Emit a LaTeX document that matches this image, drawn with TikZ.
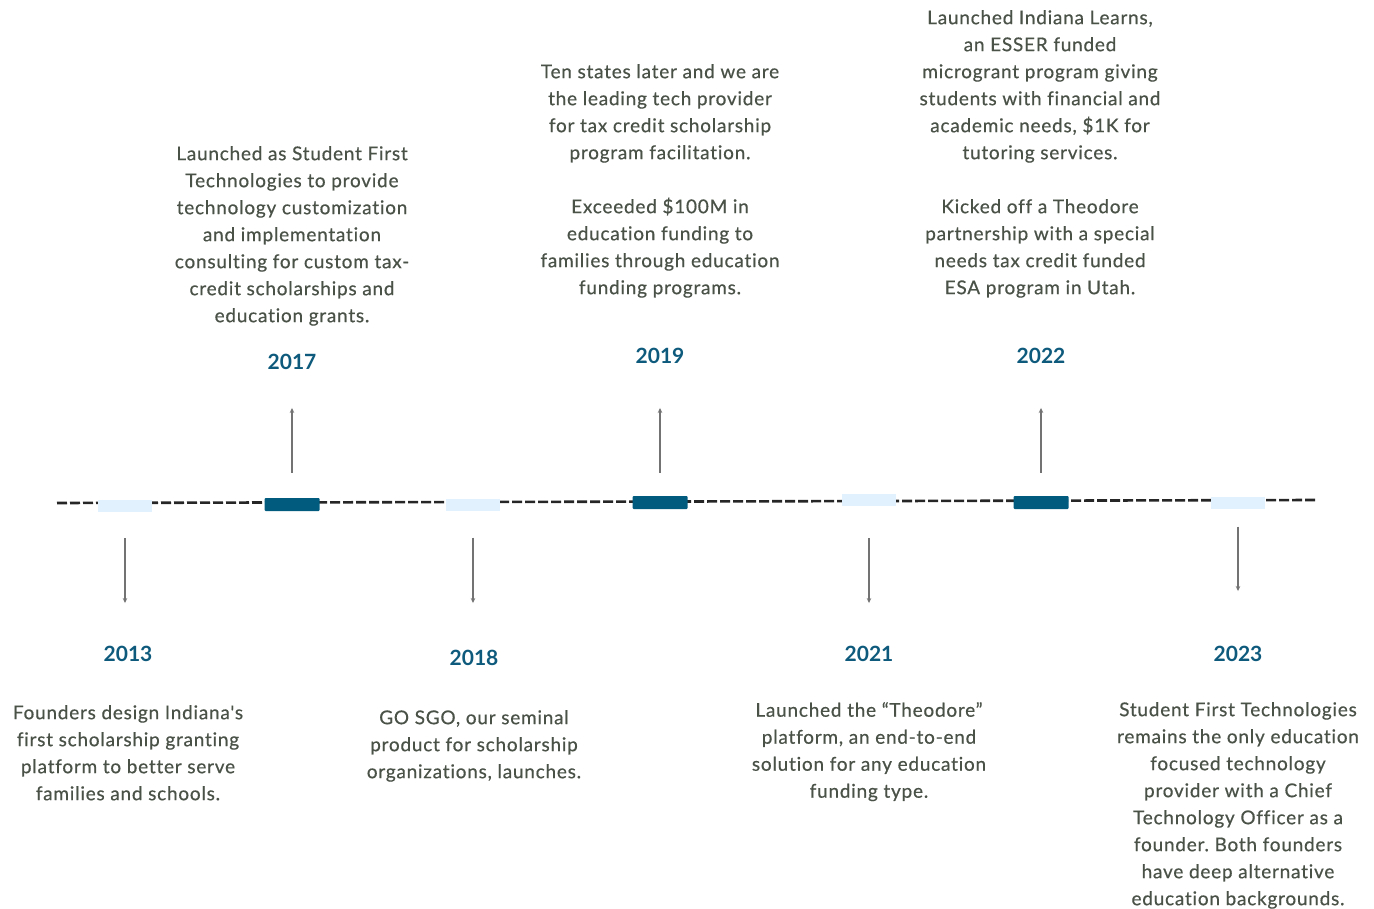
\documentclass[tikz,border=0pt]{standalone}
\usepackage{fontspec}
\setmainfont{Lato}
\newfontfamily\blurbfont[FakeBold=0.5, LetterSpace=4, Ligatures=NoCommon]{Lato}
\usetikzlibrary{arrows.meta, calc}
\definecolor{barlight}{HTML}{E1F2FE}
\definecolor{bardark}{HTML}{005B7F}
\definecolor{yearblue}{HTML}{0E5A7C}
\definecolor{bodygray}{HTML}{4A5248}
\frenchspacing

\begin{document}
\begin{tikzpicture}[x=1pt,y=-1pt]
                % define styles
\tikzset{lightbar/.style={rectangle,
                          fill=barlight,
                          inner sep=0,
                          minimum width=54pt,
                          minimum height=12pt},
         darkbar/.style={rectangle,
                         fill=bardark,
                         rounded corners=1pt,
                         inner sep=0,
                         minimum width=55pt,
                         minimum height=13pt},
         year/.style={font=\fontsize{21}{24}\selectfont\bfseries,
                      text=yearblue,
                      inner sep=0},
         blurb/.style={font=\blurbfont\fontsize{19}{27}\selectfont,
                       text=bodygray,
                       align=center,
                       anchor=north,
                       inner sep=0},
         conn/.style={draw=black!55,
                      line width=1.2pt,
                      -{Stealth[length=5pt,width=4.5pt]}}
}
\useasboundingbox (0,0) rectangle (1374,909);

% timeline
\coordinate (tl-start) at (57,503);
\coordinate (tl-end)   at (1316,500);
\draw[line width=2.6pt, black!85, dash pattern=on 10pt off 3pt] (tl-start) -- (tl-end);

% markers on the timeline
\foreach \name/\x/\y/\kind in {m2013/125/506/lightbar, m2017/292/504.5/darkbar,
                               m2018/473/504.5/lightbar, m2019/660/502.5/darkbar,
                               m2021/869/500/lightbar, m2022/1041/502.5/darkbar,
                               m2023/1238/502.5/lightbar}
    \node[\kind] (\name) at (\x,\y) {};

% year labels
\foreach \name/\x/\y in {2013/128/654, 2017/292/362, 2018/474/658, 2019/660/356,
                         2021/869/654, 2022/1041/356, 2023/1238/654}
    \node[year] (y\name) at (\x,\y) {\name};

% arrows up
\foreach \yr/\a/\b in {2017/25/38, 2019/23/44, 2022/23/44}
    \draw[conn, shorten <=\a pt, shorten >=\b pt] (m\yr.north) -- (m\yr.north |- y\yr.south);

% arrows down
\foreach \yr/\a/\b in {2013/26/43, 2018/27/47, 2021/32/43, 2023/18/55}
    \draw[conn, shorten <=\a pt, shorten >=\b pt] (m\yr.south) -- (m\yr.south |- y\yr.north);

% texts
\node[blurb] (t2013) at (128,705) {Founders design Indiana's\\first scholarship granting\\platform to better serve\\families and schools.};
\node[blurb] (t2017) at (292,146) {Launched as Student First\\Technologies to provide\\technology customization\\and implementation\\consulting for custom tax-\\credit scholarships and\\education grants.};
\node[blurb] (t2018) at (474,710) {GO SGO, our seminal\\product for scholarship\\organizations, launches.};
\node[blurb] (t2019) at (660,64) {Ten states later and we are\\the leading tech provider\\for tax credit scholarship\\program facilitation.\\[27pt]Exceeded \$100M in\\education funding to\\families through education\\funding programs.};
\node[blurb] (t2021) at (869,702) {Launched the “Theodore”\\platform, an end-to-end\\solution for any education\\funding type.};
\node[blurb] (t2022) at (1040,10) {Launched Indiana Learns,\\an ESSER funded\\microgrant program giving\\students with financial and\\academic needs, \$1K for\\tutoring services.\\[27pt]Kicked off a Theodore\\partnership with a special\\needs tax credit funded\\ESA program in Utah.};
\node[blurb] (t2023) at (1238,702) {Student First Technologies\\remains the only education\\focused technology\\provider with a Chief\\Technology Officer as a\\founder. Both founders\\have deep alternative\\education backgrounds.};
\end{tikzpicture}
\end{document}
